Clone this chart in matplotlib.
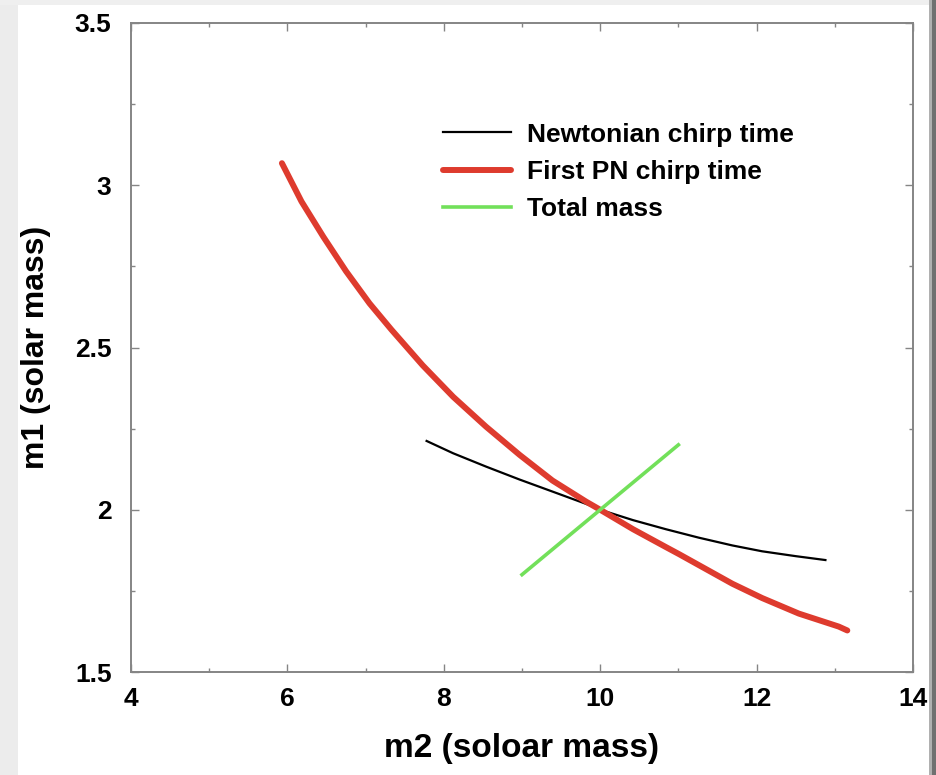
import matplotlib
matplotlib.use("Agg")
import matplotlib.pyplot as plt
from matplotlib.patches import Rectangle
from matplotlib.ticker import MultipleLocator

plt.rcParams['font.family'] = ['Liberation Sans', 'DejaVu Sans']
plt.rcParams['font.weight'] = 'bold'

# Newtonian chirp-time curve (m2, m1)
newton_m2 = [7.78, 8.12, 8.54, 8.97, 9.39, 9.82, 10.0, 10.42, 10.84, 11.26,
             11.69, 12.07, 12.5, 12.88]
newton_m1 = [2.212, 2.174, 2.133, 2.093, 2.056, 2.018, 2.0, 1.968, 1.940, 1.914,
             1.890, 1.872, 1.857, 1.845]

# First post-Newtonian chirp-time curve (m2, m1)
pn_m2 = [5.93, 6.18, 6.46, 6.75, 7.05, 7.33, 7.61, 7.73, 8.12, 8.54, 8.97, 9.39,
         9.82, 10.0, 10.42, 10.84, 11.01, 11.69, 12.07, 12.54, 13.05, 13.16]
pn_m1 = [3.068, 2.950, 2.841, 2.735, 2.636, 2.555, 2.478, 2.445, 2.348, 2.256,
         2.169, 2.090, 2.025, 2.0, 1.940, 1.885, 1.863, 1.772, 1.728, 1.680,
         1.640, 1.628]

# Total-mass constraint (m2, m1)
total_m2 = [9.0, 10.0, 11.0]
total_m1 = [1.8, 2.0, 2.2]

x_ticks = [4, 6, 8, 10, 12, 14]
y_ticks = [1.5, 2, 2.5, 3, 3.5]
y_tick_labels = ['1.5', '2', '2.5', '3', '3.5']

fig = plt.figure(figsize=(9.36, 7.75), dpi=100)
fig.patch.set_facecolor('white')

# soft frame around the page edges
fig.patches.append(Rectangle((0, 0), 18 / 936, 1, transform=fig.transFigure,
                             facecolor='#ececec', edgecolor='none', zorder=0))
fig.patches.append(Rectangle((0, 1 - 5 / 775), 1, 5 / 775, transform=fig.transFigure,
                             facecolor='#efefef', edgecolor='none', zorder=0))
fig.patches.append(Rectangle((929 / 936, 0), 3 / 936, 1, transform=fig.transFigure,
                             facecolor='#b0b0b0', edgecolor='none', zorder=0))
fig.patches.append(Rectangle((932 / 936, 0), 4 / 936, 1, transform=fig.transFigure,
                             facecolor='#707070', edgecolor='none', zorder=0))

ax = fig.add_axes([131 / 936, 1 - 672 / 775, (913 - 131) / 936, (672 - 23) / 775])

ax.plot(newton_m2, newton_m1, color='black', lw=1.6, label='Newtonian chirp time')
ax.plot(pn_m2, pn_m1, color='#de3b2e', lw=4.3, solid_capstyle='round',
        solid_joinstyle='round', label='First PN chirp time')
ax.plot(total_m2, total_m1, color='#72e05a', lw=2.6, label='Total mass')

ax.set_xlim(4, 14)
ax.set_ylim(1.5, 3.5)
ax.set_xticks(x_ticks)
ax.set_xticklabels([str(t) for t in x_ticks])
ax.set_yticks(y_ticks)
ax.set_yticklabels(y_tick_labels)
ax.xaxis.set_minor_locator(MultipleLocator(1))
ax.yaxis.set_minor_locator(MultipleLocator(0.25))

for s in ax.spines.values():
    s.set_color('#858585')
    s.set_linewidth(1.4)

ax.tick_params(which='both', direction='in', top=True, right=True,
               color='#858585', width=1.0)
ax.tick_params(which='major', length=6, labelsize=19)
ax.tick_params(axis='x', which='major', pad=11)
ax.tick_params(axis='y', which='major', pad=14)
ax.tick_params(which='minor', length=3)

ax.set_xlabel('m2 (soloar mass)', fontsize=24, fontweight='bold')
ax.set_ylabel('m1 (solar mass)', fontsize=23, fontweight='bold')
ax.xaxis.set_label_coords(0.5, -0.094)
ax.yaxis.set_label_coords(-0.102, 0.5)

leg = ax.legend(loc='upper left', bbox_to_anchor=(0.399, 0.8466), frameon=False,
                fontsize=19, handlelength=2.58, handletextpad=0.6, labelspacing=0.5,
                borderaxespad=0, borderpad=0)
for t in leg.get_texts():
    t.set_fontweight('bold')

fig.savefig('out.png', dpi=100)
